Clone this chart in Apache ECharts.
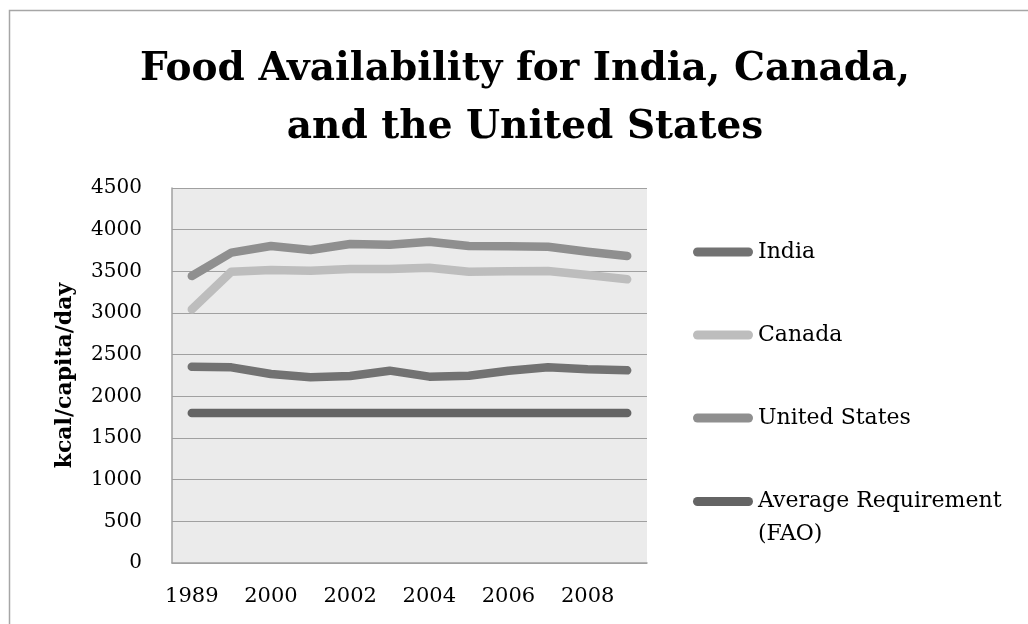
<!DOCTYPE html>
<html>
<head>
<meta charset="utf-8">
<script src="https://cdn.jsdelivr.net/npm/echarts@6/dist/echarts.min.js"></script>
<style>
  html, body { margin: 0; padding: 0; background: #fff; }
  #chart { width: 1028px; height: 624px; }
</style>
</head>
<body>
<div id="chart"></div>
<script>
// values (kcal/capita/day)
var years = ['1989', '1999', '2000', '2001', '2002', '2003', '2004', '2005', '2006', '2007', '2008', '2009']
var india = [2355, 2348, 2268, 2228, 2244, 2308, 2236, 2248, 2308, 2348, 2324, 2312]
var canada = [3044, 3496, 3516, 3508, 3528, 3528, 3544, 3496, 3500, 3505, 3456, 3404]
var unitedStates = [3444, 3724, 3804, 3756, 3828, 3820, 3856, 3804, 3800, 3796, 3736, 3684]
var avgRequirement = [1800, 1800, 1800, 1800, 1800, 1800, 1800, 1800, 1800, 1800, 1800, 1800]

var seriesNames = ['India', 'Canada', 'United States', 'Average Requirement (FAO)']
var seriesColors = ['#727272', '#bdbdbd', '#8f8f8f', '#646464']

var font = 'DejaVu Serif'
var capsule = 'path://M4.5,0 L55.5,0 A4.5,4.5 0 0 1 55.5,9 L4.5,9 A4.5,4.5 0 0 1 4.5,0 Z'

function makeLine (name, data, color) {
  return {
    name: name,
    type: 'line',
    data: data,
    symbol: 'none',
    smooth: false,
    itemStyle: { color: color },
    lineStyle: { color: color, width: 8.5, cap: 'round', join: 'round' }
  }
}

function makeLegend (name, top, lineHeight, formatter) {
  return {
    orient: 'vertical',
    left: 693,
    top: top,
    padding: 0,
    itemWidth: 60,
    itemHeight: 9,
    icon: capsule,
    data: [name],
    formatter: formatter,
    textStyle: { fontFamily: font, fontSize: 22, color: '#000', lineHeight: lineHeight }
  }
}

var chart = echarts.init(document.getElementById('chart'))
var option = {
  animation: false,
  color: seriesColors,
  title: {
    text: 'Food Availability for India, Canada,\nand the United States',
    left: 525,
    top: 41,
    padding: 0,
    textAlign: 'center',
    textStyle: {
      fontFamily: font,
      fontWeight: 'bold',
      fontSize: 39,
      lineHeight: 58,
      color: '#000'
    }
  },
  graphic: [{
    type: 'rect',
    left: 7,
    top: 8,
    shape: { width: 1100, height: 700 },
    style: { fill: null, stroke: '#a6a6a6', lineWidth: 1.5 },
    silent: true
  }],
  legend: [
    makeLegend(seriesNames[0], 239, 26),
    makeLegend(seriesNames[1], 322, 26),
    makeLegend(seriesNames[2], 405, 26),
    makeLegend(seriesNames[3], 452, 33, function () { return '\nAverage Requirement\n(FAO)' })
  ],
  grid: {
    left: 172,
    right: 381,
    top: 188,
    bottom: 61,
    show: true,
    borderWidth: 0,
    backgroundColor: '#ebebeb'
  },
  xAxis: {
    type: 'category',
    data: years,
    boundaryGap: true,
    axisLine: { lineStyle: { color: '#a0a0a0', width: 1.5 } },
    axisTick: { show: false },
    axisLabel: { interval: 1, margin: 23, fontFamily: font, fontSize: 21, color: '#000' }
  },
  yAxis: {
    type: 'value',
    min: 0,
    max: 4500,
    interval: 500,
    name: 'kcal/capita/day',
    nameLocation: 'middle',
    nameGap: 96,
    nameTextStyle: { fontFamily: font, fontWeight: 'bold', fontSize: 22, color: '#000' },
    axisLine: { show: true, lineStyle: { color: '#a0a0a0', width: 1.5 } },
    axisTick: { show: false },
    splitLine: { lineStyle: { color: '#a0a0a0', width: 1.2 } },
    axisLabel: {
      margin: 30,
      fontFamily: font,
      fontSize: 20,
      color: '#000',
      padding: [8, 0, 0, 0],
      formatter: function (v) { return String(v) }
    }
  },
  series: [
    makeLine(seriesNames[0], india, seriesColors[0]),
    makeLine(seriesNames[1], canada, seriesColors[1]),
    makeLine(seriesNames[2], unitedStates, seriesColors[2]),
    makeLine(seriesNames[3], avgRequirement, seriesColors[3])
  ]
}
chart.setOption(option)
</script>
</body>
</html>
